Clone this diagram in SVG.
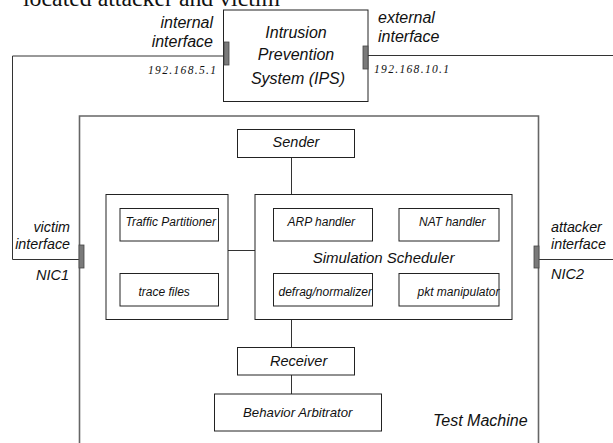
<svg xmlns="http://www.w3.org/2000/svg" width="613" height="443" viewBox="0 0 613 443">
<style>
.bx{fill:#fff;stroke:#222;stroke-width:1}
.ln{fill:none;stroke:#333;stroke-width:1}
.port{fill:#7a7a7a;stroke:#444;stroke-width:0.8}
.t{font-family:"Liberation Sans",Arial,sans-serif;font-style:italic;fill:#111}
.ip{font-family:"Liberation Serif","Times New Roman",serif;font-style:italic;font-size:11.5px;fill:#111}
.m{text-anchor:middle}
.e{text-anchor:end}
</style>
<rect width="613" height="443" fill="#fff"/>
<text x="23" y="6" font-family="Liberation Serif,'Times New Roman',serif" font-size="24" fill="#111" textLength="257" lengthAdjust="spacingAndGlyphs">located attacker and victim</text>

<g id="connectors">
<path class="ln" d="M224,56 H12.5 V259.5 H79"/>
<path class="ln" d="M368,55.5 H613"/>
<path class="ln" d="M539,259.5 H613"/>
<path class="ln" d="M291.5,157.5 V194"/>
<path class="ln" d="M228,250.5 H255"/>
<path class="ln" d="M161.5,241 V273"/>
<path class="ln" d="M291.5,319 V347.5"/>
<path class="ln" d="M291.5,375 V394"/>
</g>

<g id="ips">
<rect class="bx" x="223.5" y="10" width="144.5" height="91.5"/>
<text class="t m" x="296" y="37.5" font-size="16">Intrusion</text>
<text class="t m" x="296" y="59.5" font-size="16">Prevention</text>
<text class="t m" x="298" y="83.5" font-size="16">System (IPS)</text>
</g>

<g id="internal-interface">
<rect class="port" x="224" y="42" width="5" height="23"/>
<text class="t e" x="213" y="28" font-size="16">internal</text>
<text class="t e" x="213" y="47" font-size="16">interface</text>
<text class="ip" x="148" y="74" textLength="68" lengthAdjust="spacing">192.168.5.1</text>
</g>

<g id="external-interface">
<rect class="port" x="363" y="46" width="5" height="23"/>
<text class="t" x="378" y="23" font-size="16">external</text>
<text class="t" x="378" y="42" font-size="16">interface</text>
<text class="ip" x="374" y="73" textLength="75" lengthAdjust="spacing">192.168.10.1</text>
</g>

<g id="test-machine">
<path d="M79.5,443 V116 H538.5 V443" fill="none" stroke="#666" stroke-width="1.6"/>
<text class="t" x="433" y="426" font-size="16">Test Machine</text>
</g>

<g id="nic1">
<rect class="port" x="79" y="245" width="5" height="23"/>
<text class="t e" x="70" y="232" font-size="14.3">victim</text>
<text class="t e" x="70" y="249" font-size="14.3">interface</text>
<text class="t e" x="69" y="280" font-size="14.5">NIC1</text>
</g>

<g id="nic2">
<rect class="port" x="534" y="246" width="5" height="22"/>
<text class="t" x="551" y="232" font-size="14.3">attacker</text>
<text class="t" x="551" y="249" font-size="14.3">interface</text>
<text class="t" x="551" y="279" font-size="14.5">NIC2</text>
</g>

<g id="sender">
<rect class="bx" x="237.5" y="129.5" width="117" height="28"/>
<text class="t m" x="296" y="147" font-size="14.5">Sender</text>
</g>

<g id="trace-group">
<rect class="bx" x="106" y="194.5" width="122" height="125"/>
</g>

<g id="traffic-partitioner">
<rect class="bx" x="120" y="208.5" width="98.5" height="32.5"/>
<text class="t" x="125.5" y="226" font-size="12">Traffic Partitioner</text>
</g>

<g id="trace-files">
<rect class="bx" x="120" y="273.5" width="98.5" height="32.5"/>
<text class="t" x="138.5" y="296" font-size="12">trace files</text>
</g>

<g id="simulation-scheduler">
<rect class="bx" x="255" y="194.5" width="257" height="125"/>
<text class="t m" x="383.5" y="263" font-size="15">Simulation Scheduler</text>
</g>

<g id="arp-handler">
<rect class="bx" x="273.5" y="208.5" width="99" height="32.5"/>
<text class="t" x="287.5" y="226" font-size="12">ARP handler</text>
</g>

<g id="nat-handler">
<rect class="bx" x="399" y="208.5" width="100" height="32.5"/>
<text class="t" x="419" y="226" font-size="12">NAT handler</text>
</g>

<g id="defrag-normalizer">
<rect class="bx" x="273.5" y="273.5" width="99" height="32.5"/>
<text class="t" x="278.5" y="296" font-size="12">defrag/normalizer</text>
</g>

<g id="pkt-manipulator">
<rect class="bx" x="399" y="273.5" width="100" height="32.5"/>
<text class="t" x="417.5" y="296" font-size="12">pkt manipulator</text>
</g>

<g id="receiver">
<rect class="bx" x="237.5" y="347.5" width="117" height="27.5"/>
<text class="t" x="270" y="366" font-size="14.5">Receiver</text>
</g>

<g id="behavior-arbitrator">
<rect class="bx" x="214.5" y="394" width="167" height="37"/>
<text class="t" x="243" y="417" font-size="13.2">Behavior Arbitrator</text>
</g>
</svg>
